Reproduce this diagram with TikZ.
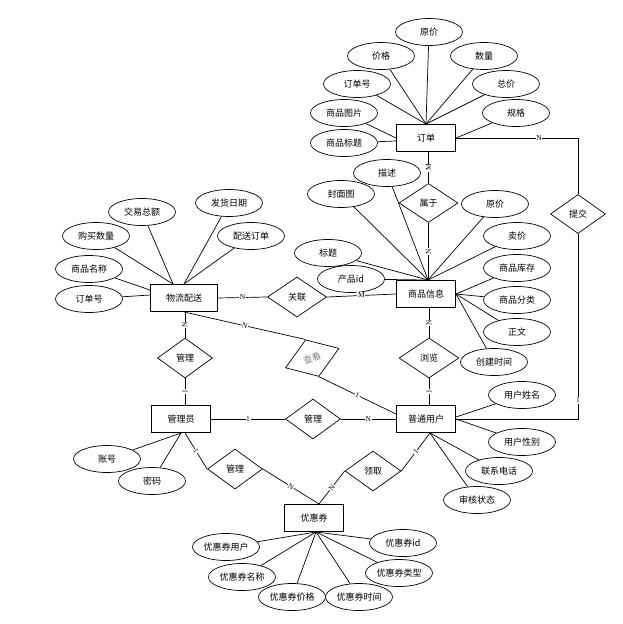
\documentclass[tikz,border=0pt]{standalone}
\usepackage{fontspec}
\setmainfont{Noto Sans CJK SC}
\newfontfamily\labfont{Liberation Serif}
\usetikzlibrary{shapes.geometric}
\begin{document}
\begin{tikzpicture}[x=1pt,y=-1pt,
  base/.style={font=\fontsize{9}{10}\selectfont, inner sep=0pt},
  ent/.style={base, draw, line width=1pt, minimum width=59pt, minimum height=27pt},
  attr/.style={base, ellipse, draw, line width=0.7pt, minimum width=67pt, minimum height=27pt},
  rel/.style={base, diamond, draw, line width=0.7pt, minimum width=57pt, minimum height=40pt},
  conn/.style={line width=0.7pt},
  card/.style={font=\labfont\fontsize{7.5}{7.5}\selectfont, fill=white, inner sep=0.6pt}
]
\useasboundingbox (0,0) rectangle (622,624);
\fill[white] (0,0) rectangle (622,624);

% entities
\node[ent] (dd) at (426,138) {订单};
\node[ent] (sp) at (426,294) {商品信息};
\node[ent] (pt) at (426,419) {普通用户};
\node[ent, minimum width=67pt] (wl) at (184,298) {物流配送};
\node[ent] (gly) at (181,419) {管理员};
\node[ent] (yhq) at (314,518) {优惠券};

% relationships
\node[rel, minimum width=59pt, minimum height=39pt] (sy) at (428.5,203) {属于};
\node[rel, minimum width=55pt, minimum height=39pt] (tj) at (578,214) {提交};
\node[rel, minimum width=59pt] (gl) at (297,297) {关联};
\node[rel, minimum width=55pt] (gl1) at (185,358) {管理};
\node[rel, minimum width=60pt] (lb) at (429,358) {浏览};
\node[rel, minimum width=55pt] (gl2) at (313,419) {管理};
\node[rel, minimum width=55pt] (gl3) at (235,469) {管理};
\node[rel, minimum width=56pt] (lq) at (373,471) {领取};
\node[rel, minimum width=57pt, minimum height=39pt, rotate=20, text=gray] (ck) at (312.2,358.1) {查看};

% attributes of 订单
\node[attr] (d1) at (429,32) {原价};
\node[attr] (d2) at (381,56) {价格};
\node[attr] (d3) at (484,56) {数量};
\node[attr] (d4) at (357,84) {订单号};
\node[attr] (d5) at (506,84) {总价};
\node[attr] (d6) at (344,113) {商品图片};
\node[attr] (d7) at (516,113) {规格};
\node[attr] (d8) at (344,143) {商品标题};
\foreach \a in {d1,d2,d3,d4,d5} \draw[conn] (\a) -- (dd.north);
\draw[conn] (d6) -- (dd.west);
\draw[conn] (d8) -- ([yshift=-3pt]dd.west);
\draw[conn] (d7) -- (dd.east);

% attributes of 商品信息
\node[attr] (s1) at (387,173) {描述};
\node[attr] (s2) at (341,194) {封面图};
\node[attr] (s3) at (495,204) {原价};
\node[attr] (s4) at (517,236) {卖价};
\node[attr] (s5) at (328,253) {标题};
\node[attr] (s6) at (351,279) {产品id};
\node[attr] (s7) at (517,268) {商品库存};
\node[attr] (s8) at (517,300) {商品分类};
\node[attr] (s9) at (517,332) {正文};
\node[attr] (s10) at (494,362) {创建时间};
\foreach \a in {s1,s2,s3,s4,s5,s6} \draw[conn] (\a) -- ([xshift=2pt]sp.north);
\foreach \a in {s7,s8,s9,s10} \draw[conn] (\a) -- (sp.east);

% attributes of 物流配送
\node[attr] (w1) at (142,212) {交易总额};
\node[attr] (w2) at (229,203) {发货日期};
\node[attr] (w3) at (96,236) {购买数量};
\node[attr] (w4) at (251,236) {配送订单};
\node[attr] (w5) at (89,269) {商品名称};
\node[attr] (w6) at (89,299) {订单号};
\draw[conn] (w1) -- ([xshift=-11pt]wl.north);
\draw[conn] (w3) -- ([xshift=-11pt]wl.north);
\draw[conn] (w2) -- (wl.north);
\draw[conn] (w4) -- (wl.north);
\draw[conn] (w5) -- ([yshift=8pt]wl.west);
\draw[conn] (w6) -- ([yshift=3pt]wl.west);

% attributes of 普通用户
\node[attr] (p1) at (522,395) {用户姓名};
\node[attr] (p2) at (522,442) {用户性别};
\node[attr] (p3) at (499,471) {联系电话};
\node[attr] (p4) at (477,500) {审核状态};
\draw[conn] (p1) -- ([yshift=2pt]pt.east);
\draw[conn] (p2) -- (pt.east);
\draw[conn] (p3) -- ([xshift=4pt]pt.south);
\draw[conn] (p4) -- ([xshift=4pt]pt.south);

% attributes of 管理员
\node[attr] (g1) at (107,459) {账号};
\node[attr] (g2) at (152,481) {密码};
\draw[conn] (g1) -- (gly.south);
\draw[conn] (g2) -- (gly.south);

% attributes of 优惠券
\node[attr] (y1) at (226,547) {优惠券用户};
\node[attr] (y2) at (403,543) {优惠券id};
\node[attr] (y3) at (242,577) {优惠券名称};
\node[attr] (y4) at (399,573) {优惠券类型};
\node[attr] (y5) at (292,597) {优惠券价格};
\node[attr] (y6) at (359,597) {优惠券时间};
\foreach \a in {y1,y2,y3,y4,y5,y6} \draw[conn] (\a) -- ([xshift=2pt]yhq.south);

% relationship connectors
\draw[conn] (sy.north |- dd.south) -- node[card, rotate=90] {M} (sy.north);
\draw[conn] (sy.south) -- node[card, rotate=90] {N} (sy.south |- sp.north);
\draw[conn] (dd.east) -| node[card, pos=0.34] {N} (tj.north);
\draw[conn] (tj.south) |- node[card, pos=0.45] {1} (pt.east);
\draw[conn] (wl.east) -- node[card] {N} (gl.west);
\draw[conn] (gl.east) -- node[card] {M} (sp.west);
\draw[conn] (lb.north |- sp.south) -- node[card, rotate=90] {N} (lb.north);
\draw[conn] (lb.south) -- node[card, rotate=90] {1} (lb.south |- pt.north);
\draw[conn] (gl1.north |- wl.south) -- node[card, rotate=90] {N} (gl1.north);
\draw[conn] (gl1.south) -- node[card, rotate=90] {1} (gl1.south |- gly.north);
\draw[conn] (gly.east) -- node[card] {1} (gl2.west);
\draw[conn] (gl2.east) -- node[card] {N} (pt.west);
\draw[conn] (wl.south) -- node[card, sloped] {N} (ck.north);
\draw[conn] (ck.south) -- node[card, sloped] {1} ([yshift=5pt]pt.west);
\draw[conn] ([xshift=4pt]gly.south) -- node[card, sloped] {1} (gl3.west);
\draw[conn] (gl3.east) -- node[card, sloped] {N} ([xshift=5pt]yhq.north);
\draw[conn] ([xshift=4pt]pt.south) -- node[card, sloped] {1} (lq.east);
\draw[conn] (lq.west) -- node[card, sloped] {N} ([xshift=5pt]yhq.north);
\end{tikzpicture}
\end{document}
